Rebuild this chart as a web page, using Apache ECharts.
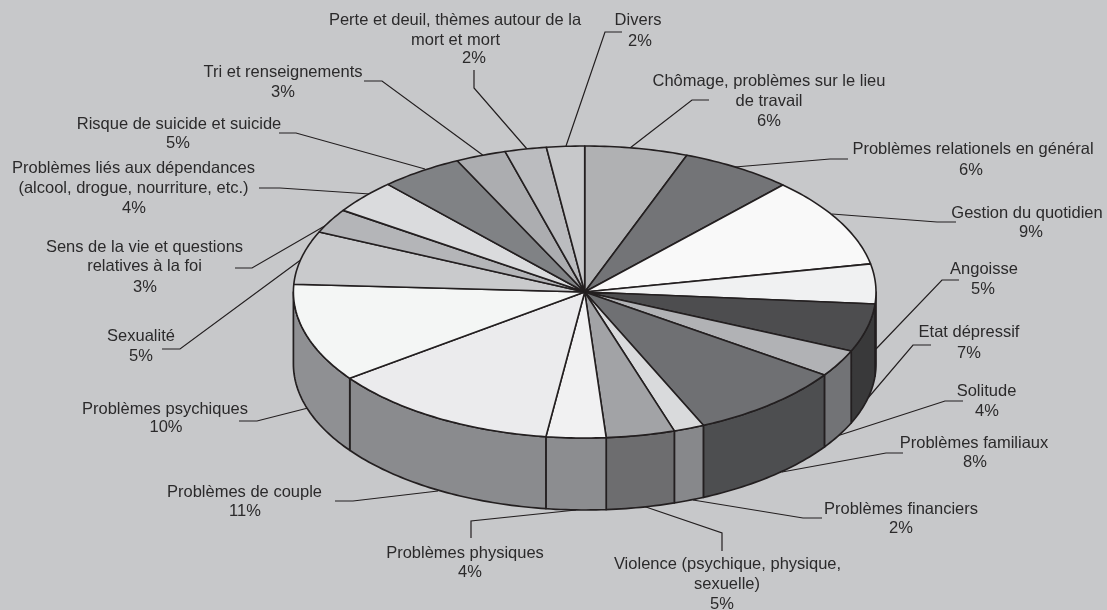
<!DOCTYPE html>
<html>
<head>
<meta charset="utf-8">
<style>
  html, body { margin: 0; padding: 0; background: #c7c8ca; }
  #chart { width: 1107px; height: 610px; }
</style>
<script src="https://cdn.jsdelivr.net/npm/echarts@6/dist/echarts.min.js"></script>
</head>
<body>
<div id="chart"></div>
<script>
// label text, one entry per slice, clockwise from 12 o'clock
const categories = [
  ["Chômage, problèmes sur le lieu", "de travail"],
  ["Problèmes relationels en général"],
  ["Gestion du quotidien"],
  ["Angoisse"],
  ["Etat dépressif"],
  ["Solitude"],
  ["Problèmes familiaux"],
  ["Problèmes financiers"],
  ["Violence (psychique, physique,", "sexuelle)"],
  ["Problèmes physiques"],
  ["Problèmes de couple"],
  ["Problèmes psychiques"],
  ["Sexualité"],
  ["Sens de la vie et questions", "relatives à la foi"],
  ["Problèmes liés aux dépendances", "(alcool, drogue, nourriture, etc.)"],
  ["Risque de suicide et suicide"],
  ["Tri et renseignements"],
  ["Perte et deuil, thèmes autour de la", "mort et mort"],
  ["Divers"]
];
// percentages as printed
const printed = [6, 6, 9, 5, 7, 4, 8, 2, 5, 4, 11, 10, 5, 3, 4, 5, 3, 2, 2];
// slice sizes as they measure on the picture (the drawn pie differs a bit from the print)
const shares = [5.7, 6.2, 10.0, 4.4, 5.3, 3.0, 8.7, 1.7, 3.8, 3.3, 12.8, 10.9, 5.9, 2.7, 3.75, 4.6, 2.8, 2.3, 2.1];

const topColors = ["#b0b1b3", "#737477", "#f9f9f9", "#f0f1f2", "#4d4d4f", "#b1b2b5", "#6f7073", "#d9dadc", "#a2a3a6",
  "#f1f1f2", "#ebebed", "#f4f6f5", "#c9cacc", "#b4b5b8", "#dadbdd", "#808285", "#acadb0", "#bbbcbf", "#c7c8ca"];
const wallColors = ["#808285", "#808285", "#808285", "#39393a", "#39393a", "#727376", "#4d4e50", "#87888b", "#6d6d6f",
  "#8c8d90", "#8a8b8e", "#8f9093", "#8f9093", "#8f9093", "#8f9093", "#8f9093", "#8f9093", "#8f9093", "#8f9093"];

// label line centres [x, y], the percentage is the last line
const labelSpots = [
  [[769, 81], [769, 101], [769, 121]],
  [[973, 149], [971, 170]],
  [[1027, 213], [1031, 232]],
  [[984, 269], [983, 289]],
  [[969, 332], [969, 353]],
  [[986.5, 391], [987, 411]],
  [[974, 443], [975, 462]],
  [[901, 509], [901, 528]],
  [[727.5, 564], [727, 584], [722, 604]],
  [[465, 553], [470, 572]],
  [[244.5, 492], [245, 511]],
  [[165, 409], [166, 427]],
  [[141, 336], [141, 356]],
  [[144.5, 247], [144.5, 266], [145, 287]],
  [[133.5, 168], [133.5, 188], [134, 208]],
  [[179, 124], [178, 143]],
  [[283, 72], [283, 92]],
  [[455, 20], [455.5, 40], [474, 58]],
  [[638, 20], [640, 41]]
];
// leader lines
const leaders = [
  [[709, 100], [692, 100], [630, 148]],
  [[848, 159], [830, 159], [735, 167]],
  [[956, 222], [937, 222], [832, 214]],
  [[959, 280], [942, 280], [876, 349]],
  [[931, 345], [913, 345], [868, 398]],
  [[963, 401], [945, 401], [837, 436]],
  [[903, 453], [886, 453], [782, 472]],
  [[822, 518], [803, 518], [693, 500]],
  [[722, 551], [722, 533], [643, 506]],
  [[471, 538], [471, 521], [576, 510]],
  [[335, 501], [353, 501], [438, 491]],
  [[239, 421], [257, 421], [308, 408]],
  [[162, 349], [180, 349], [306, 256]],
  [[235, 268], [252, 268], [335, 220]],
  [[259, 188], [280, 188], [370, 194]],
  [[279, 133], [296, 133], [425, 169]],
  [[364, 81], [382, 81], [484, 156]],
  [[474, 70], [474, 88], [527, 149]],
  [[622, 32], [605, 32], [566, 146]]
];

const cx = 584.7, cy = 292, rx = 291.3, ry = 146, depth = 72;
const ink = "#231f20";

function rim(deg, drop) {
  const t = deg * Math.PI / 180;
  return [cx + rx * Math.sin(t), cy - ry * Math.cos(t) + (drop || 0)];
}
function arc(a, b, drop) {
  const pts = [];
  const n = Math.max(2, Math.ceil(Math.abs(b - a)));
  for (let i = 0; i <= n; i++) pts.push(rim(a + (b - a) * i / n, drop));
  return pts;
}

const total = shares.reduce((a, b) => a + b, 0);
let run = 0;
const sliceData = shares.map((s, i) => {
  const start = run / total * 360;
  run += s;
  return [start, run / total * 360, i];
});

function renderSlice(params, api) {
  const a = api.value(0), b = api.value(1), i = api.value(2);
  const children = [];
  // wall only on the front half
  const wa = Math.max(a, 90), wb = Math.min(b, 270);
  if (wb > wa) {
    children.push({
      type: "polygon",
      shape: { points: arc(wa, wb, 0).concat(arc(wb, wa, depth)) },
      style: { fill: wallColors[i], stroke: ink, lineWidth: 1.7, lineJoin: "round" }
    });
  }
  children.push({
    type: "polygon",
    shape: { points: [[cx, cy]].concat(arc(a, b, 0)) },
    style: { fill: topColors[i], stroke: ink, lineWidth: 1.6, lineJoin: "round" }
  });
  return { type: "group", children: children };
}

function renderLabel(params, api) {
  const i = api.value(0);
  const lines = categories[i].concat(printed[i] + "%");
  const children = [{
    type: "polyline",
    shape: { points: leaders[i] },
    style: { fill: null, stroke: ink, lineWidth: 1.2 }
  }];
  lines.forEach((line, k) => {
    children.push({
      type: "text",
      style: {
        text: line,
        x: labelSpots[i][k][0],
        y: labelSpots[i][k][1],
        align: "center",
        verticalAlign: "middle",
        fill: "#2b2a2b",
        font: '16.5px "Liberation Sans", Arial, sans-serif'
      }
    });
  });
  return { type: "group", children: children };
}

const chart = echarts.init(document.getElementById("chart"));
chart.setOption({
  backgroundColor: "#c7c8ca",
  animation: false,
  tooltip: { show: false },
  series: [
    // leaders sit under the pie so they stop at its edge
    {
      type: "custom",
      coordinateSystem: "none",
      silent: true,
      z: 1,
      renderItem: renderLabel,
      data: categories.map((c, i) => [i])
    },
    {
      type: "custom",
      coordinateSystem: "none",
      silent: true,
      z: 2,
      renderItem: renderSlice,
      data: sliceData
    }
  ]
});
</script>
</body>
</html>
